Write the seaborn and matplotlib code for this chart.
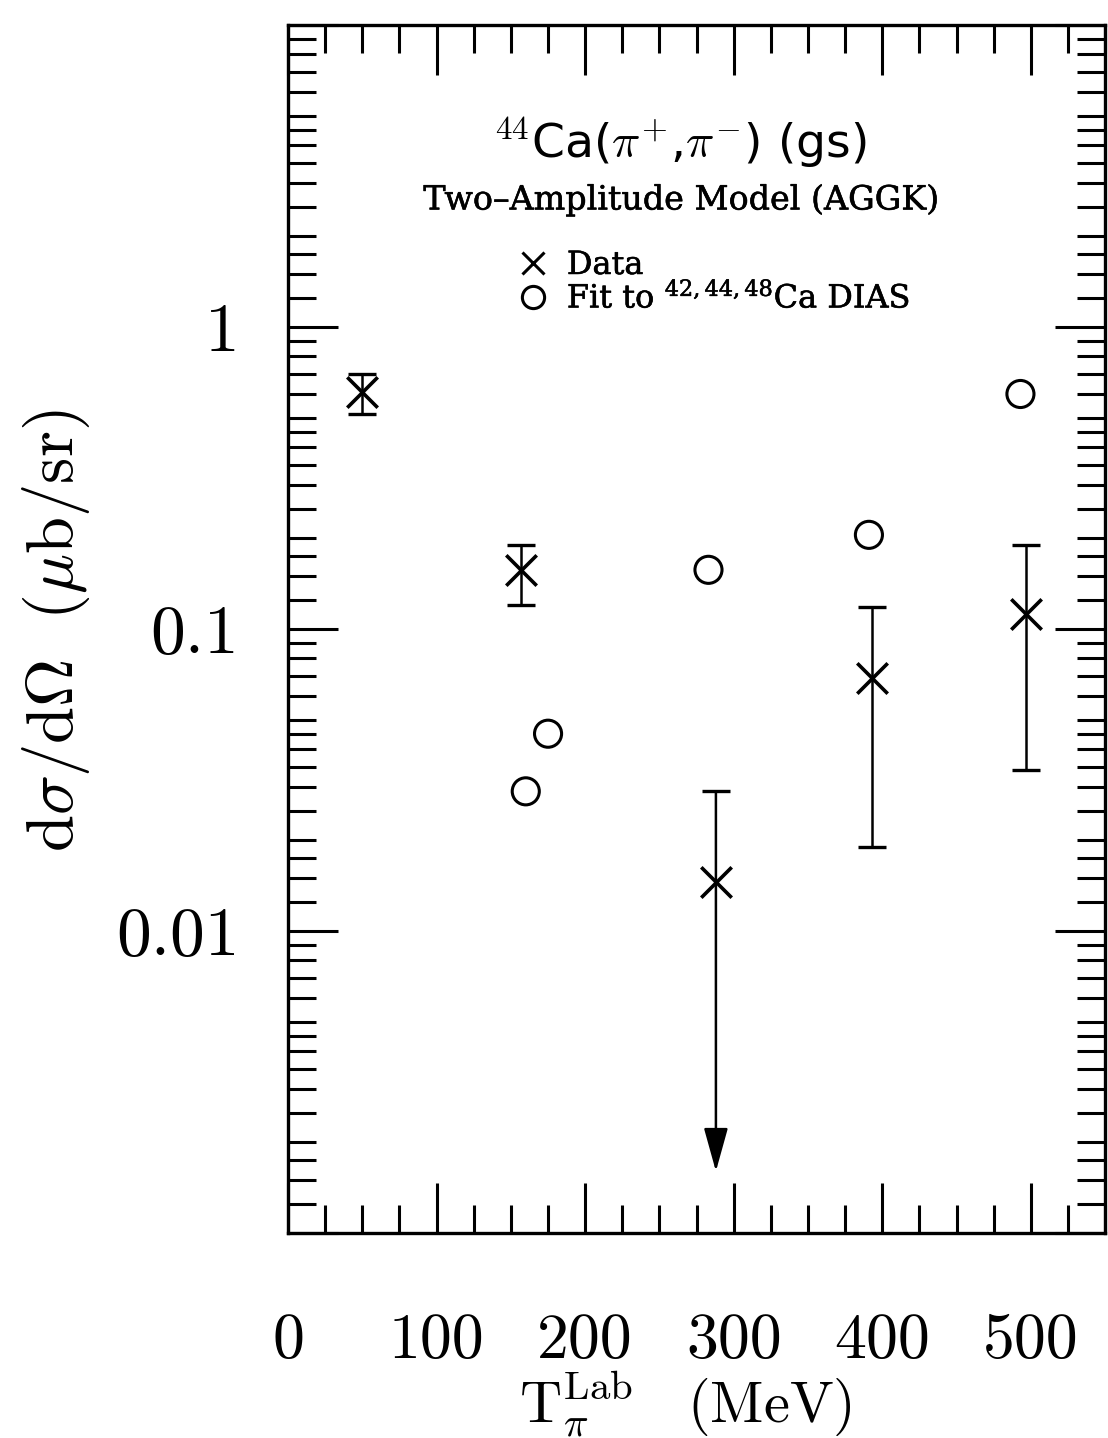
import numpy as np
import pandas as pd
import matplotlib
matplotlib.use("Agg")
import matplotlib.pyplot as plt
import matplotlib.patheffects as pe
from matplotlib.lines import Line2D
from matplotlib.ticker import LogLocator, MultipleLocator, NullFormatter
from matplotlib.font_manager import FontProperties
import seaborn as sns

# ---- data ----
data_T = [50, 157, 288, 393, 497]            # pion lab energy (MeV)
data_xs = [0.61, 0.157, 0.0145, 0.069, 0.112]  # measured cross sections (ub/sr)
data_lo = [0.515, 0.12, 0.0016, 0.019, 0.034]  # lower error ends (arrow tip for the limit)
data_hi = [0.70, 0.19, 0.029, 0.118, 0.19]     # upper error ends
data_is_limit = [False, False, True, False, False]

fit_T = [160, 175, 283, 391, 493]
fit_xs = [0.029, 0.045, 0.157, 0.205, 0.60]

x_ticks = [0, 100, 200, 300, 400, 500]
x_ticklabels = ["0", "100", "200", "300", "400", "500"]
y_ticks = [0.001, 0.01, 0.1, 1, 10]
y_ticklabels = ["", "0.01", "0.1", "1", ""]
y_minor_subs = [1.25, 1.5, 1.75, 2, 2.5, 3, 3.5, 4, 4.5, 5, 6, 7, 8, 9]

title_text = r"$^{44}$Ca($\pi^{+}$,$\pi^{-}$) (gs)"
subtitle_text = "Two\u2013Amplitude Model (AGGK)"
legend_labels = ["Data", r"Fit to $^{42,44,48}$Ca DIAS"]
xlabel_text = r"$\mathrm{T}_{\pi}^{\mathrm{Lab}}\ \ \ (\mathrm{MeV})$"
ylabel_text = r"$\mathrm{d}\sigma/\mathrm{d}\Omega\ \ (\mu\mathrm{b/sr})$"

# ---- style ----
sns.set_theme(style="ticks")
plt.rcParams.update({
    "font.family": ["DejaVu Serif"],
    "mathtext.fontset": "cm",
    "axes.linewidth": 2.4,
    "axes.edgecolor": "black",
    "axes.labelcolor": "black",
    "text.color": "black",
    "xtick.color": "black",
    "ytick.color": "black",
    "axes.unicode_minus": False,
})

fig = plt.figure(figsize=(11.08, 14.38), dpi=100)
ax = fig.add_axes([0.260, 0.1426, 0.7374, 0.8400])
ax.set_yscale("log")

df_data = pd.DataFrame({"T": data_T, "xs": data_xs, "lo": data_lo,
                        "hi": data_hi, "limit": data_is_limit})
df_fit = pd.DataFrame({"T": fit_T, "xs": fit_xs})

# measured points
sns.scatterplot(data=df_data, x="T", y="xs", marker="x", s=480, color="black",
                linewidth=2.6, ax=ax, legend=False, zorder=4)
# two-sided error bars
two = df_data[~df_data["limit"]]
ax.errorbar(two["T"], two["xs"],
            yerr=[two["xs"] - two["lo"], two["hi"] - two["xs"]],
            fmt="none", ecolor="black", elinewidth=1.8, capsize=10, capthick=2.4,
            zorder=3)
# upper-limit point: cap on top, arrow downward
lim = df_data[df_data["limit"]]
for _, r in lim.iterrows():
    ax.plot([r["T"]], [r["hi"]], marker="_", ms=20, mew=2.4, color="black")
    ax.annotate("", xy=(r["T"], r["lo"]), xytext=(r["T"], r["hi"]),
                arrowprops=dict(arrowstyle="-|>,head_length=0.9,head_width=0.25",
                                lw=1.8, color="black", shrinkA=0, shrinkB=0,
                                mutation_scale=30))

# fit points
sns.scatterplot(data=df_fit, x="T", y="xs", marker="o", s=380, facecolor="none",
                edgecolor="black", linewidth=2.2, ax=ax, legend=False, zorder=4)

# ---- axes ----
ax.set_xlim(0, 550)
ax.set_ylim(1e-3, 10)
ax.set_xticks(x_ticks, labels=x_ticklabels, fontfamily="cmr10", fontsize=46)
ax.xaxis.set_minor_locator(MultipleLocator(25))
ax.set_yticks(y_ticks, labels=y_ticklabels, fontfamily="cmr10", fontsize=50)
ax.yaxis.set_minor_locator(LogLocator(base=10, subs=y_minor_subs, numticks=100))
ax.yaxis.set_minor_formatter(NullFormatter())
ax.tick_params(which="both", direction="in", top=True, right=True, width=2.2,
               color="black")
ax.tick_params(which="major", length=36)
ax.tick_params(which="minor", length=20)
ax.tick_params(axis="x", which="major", pad=58)
ax.tick_params(axis="y", which="major", pad=35)

ax.set_xlabel(xlabel_text, fontsize=42)
ax.xaxis.set_label_coords(0.487, -0.113)
ax.set_ylabel(ylabel_text, fontsize=48)
ax.yaxis.set_label_coords(-0.240, 0.499)

# ---- annotations ----
thick = [pe.withStroke(linewidth=0.4, foreground="black")]
ax.text(0.480, 0.902, title_text, transform=ax.transAxes, ha="center", va="center",
        fontsize=34, family="DejaVu Sans", math_fontfamily="cm")
ax.text(0.482, 0.855, subtitle_text, transform=ax.transAxes, ha="center",
        va="center", fontsize=24, family="DejaVu Serif", path_effects=thick)

handles = [Line2D([], [], marker="x", ls="none", color="black", ms=16, mew=2.2),
           Line2D([], [], marker="o", ls="none", mfc="none", mec="black", ms=16,
                  mew=2.2)]
leg_prop = FontProperties(family="DejaVu Serif", size=23,
                          math_fontfamily="dejavuserif")
leg = ax.legend(handles=handles, labels=legend_labels, loc="upper left",
                bbox_to_anchor=(0.263, 0.827), frameon=False, handlelength=0.9,
                handletextpad=0.6, labelspacing=0.02, borderpad=0, prop=leg_prop)
for t in leg.get_texts():
    t.set_path_effects(thick)

fig.savefig("out.png", dpi=100, facecolor="white")
